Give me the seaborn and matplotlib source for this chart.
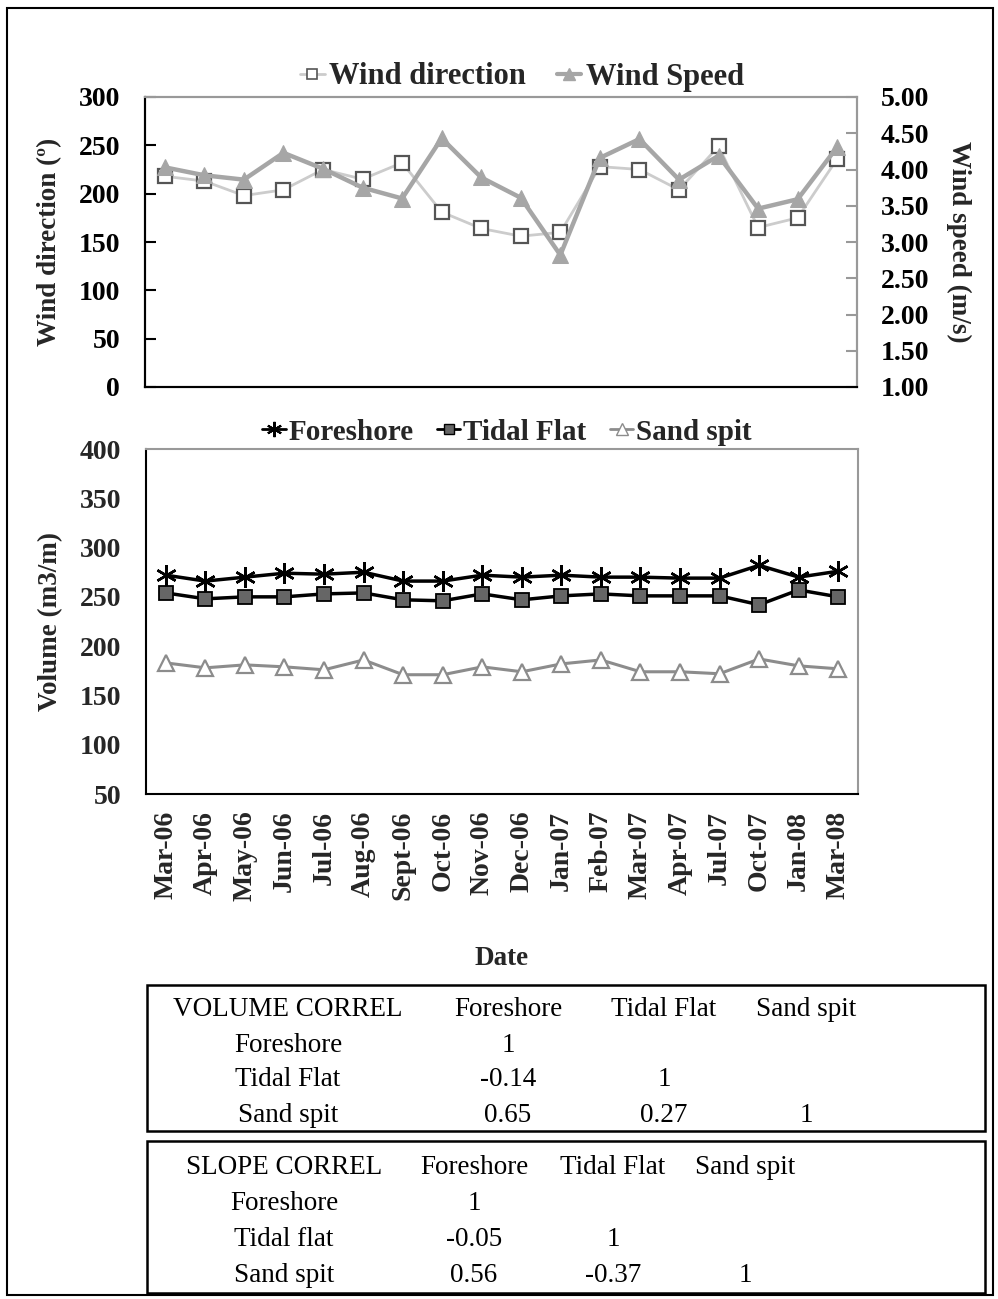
import numpy as np
import pandas as pd
import matplotlib
matplotlib.use("Agg")
import matplotlib.pyplot as plt
import seaborn as sns
from matplotlib.patches import Rectangle
from matplotlib.lines import Line2D

# ---------------- data ----------------
dates = ["Mar-06", "Apr-06", "May-06", "Jun-06", "Jul-06", "Aug-06", "Sept-06",
         "Oct-06", "Nov-06", "Dec-06", "Jan-07", "Feb-07", "Mar-07", "Apr-07",
         "Jul-07", "Oct-07", "Jan-08", "Mar-08"]
wind_direction = [218, 213, 198, 204, 225, 215, 232, 181, 164, 156, 160, 228,
                  225, 204, 249, 165, 175, 236]
wind_speed = [4.03, 3.92, 3.86, 4.23, 4.01, 3.75, 3.60, 4.43, 3.89, 3.61, 2.82,
              4.16, 4.42, 3.86, 4.19, 3.46, 3.59, 4.31]
foreshore = [272, 266, 270, 274, 273, 275, 266, 266, 272, 270, 272, 270, 270,
             269, 269, 282, 270, 276]
tidal_flat = [254, 248, 250, 250, 253, 254, 247, 246, 253, 247, 251, 253, 251,
              251, 251, 242, 257, 250]
sand_spit = [183, 178, 181, 179, 176, 186, 171, 171, 179, 174, 182, 186, 174,
             174, 172, 187, 180, 177]

left_ticks_top = [0, 50, 100, 150, 200, 250, 300]
right_ticks_top = [1.00, 1.50, 2.00, 2.50, 3.00, 3.50, 4.00, 4.50, 5.00]
ticks_bottom = [50, 100, 150, 200, 250, 300, 350, 400]

vol_title = "VOLUME CORREL"
vol_cols = ["Foreshore", "Tidal Flat", "Sand spit"]
vol_rows = ["Foreshore", "Tidal Flat", "Sand spit"]
vol_vals = [["1", "", ""], ["-0.14", "1", ""], ["0.65", "0.27", "1"]]

slope_title = "SLOPE CORREL"
slope_cols = ["Foreshore", "Tidal Flat", "Sand spit"]
slope_rows = ["Foreshore", "Tidal flat", "Sand spit"]
slope_vals = [["1", "", ""], ["-0.05", "1", ""], ["0.56", "-0.37", "1"]]

# ---------------- style ----------------
sns.set_theme(style="white")
plt.rcParams["font.family"] = ["Liberation Serif", "DejaVu Serif"]
plt.rcParams["axes.linewidth"] = 1.5

W, H = 998, 1299
fig = plt.figure(figsize=(W / 100, H / 100), dpi=100)


def fx(px):
    return px / W


def fy(py):
    return 1 - py / H


x = np.arange(len(dates))
df = pd.DataFrame({"x": x, "dir": wind_direction, "spd": wind_speed,
                   "fore": foreshore, "tidal": tidal_flat, "sand": sand_spit})

TICK_FS = 20
LAB_FS = 19.5

# ---------------- top panel ----------------
ax1 = fig.add_axes([fx(145), fy(387), fx(857) - fx(145), fy(97) - fy(387)])
ax2 = ax1.twinx()

sns.lineplot(data=df, x="x", y="dir", ax=ax1, color="#cccccc", linewidth=2,
             marker="s", markersize=10, markerfacecolor="white",
             markeredgecolor="#555555", markeredgewidth=1.6, zorder=3)
sns.lineplot(data=df, x="x", y="spd", ax=ax2, color="#a6a6a6", linewidth=3.2,
             marker="^", markersize=12, markerfacecolor="#a6a6a6",
             markeredgecolor="#a6a6a6", zorder=4)

ax1.set_xlim(-0.5, len(dates) - 0.5)
ax1.set_ylim(0, 300)
ax2.set_ylim(1, 5)
ax1.set_yticks(left_ticks_top)
ax1.set_yticklabels([str(t) for t in left_ticks_top], fontsize=TICK_FS, fontweight="bold")
ax2.set_yticks(right_ticks_top)
ax2.set_yticklabels([f"{t:.2f}" for t in right_ticks_top], fontsize=TICK_FS, fontweight="bold")
ax1.set_xticks([])
ax1.set_xlabel("")
ax1.set_ylabel("Wind direction (º)", fontsize=LAB_FS, fontweight="bold", labelpad=12)
ax2.set_ylabel("Wind speed (m/s)", fontsize=LAB_FS, fontweight="bold", rotation=-90,
               labelpad=30)
ax1.tick_params(axis="y", direction="in", length=8, width=1.5, pad=18, colors="black")
ax2.tick_params(axis="y", direction="in", length=8, width=1.5, pad=17,
                color="#999999", labelcolor="black")
for ax in (ax1, ax2):
    ax.spines["left"].set_color("black")
    ax.spines["bottom"].set_color("black")
    ax.spines["top"].set_color("#999999")
    ax.spines["right"].set_color("#999999")
    for s in ax.spines.values():
        s.set_linewidth(1.5)
ax1.patch.set_visible(False)

h_top = [Line2D([], [], color="#cccccc", lw=2, marker="s", ms=7, mfc="white",
                mec="#555555", mew=1.2),
         Line2D([], [], color="#a6a6a6", lw=3, marker="^", ms=8, mfc="#a6a6a6",
                mec="#a6a6a6")]
fig.legend(h_top, ["Wind direction", "Wind Speed"], loc="center",
           bbox_to_anchor=(fx(522), fy(77)), ncol=2, frameon=False,
           prop={"size": 22, "weight": "bold"}, handlelength=0.8,
           handletextpad=0.15, columnspacing=1.0)

# ---------------- bottom panel ----------------
ax3 = fig.add_axes([fx(146), fy(794), fx(858) - fx(146), fy(449) - fy(794)])
sns.lineplot(data=df, x="x", y="fore", ax=ax3, color="black", linewidth=2.5,
             marker=(6, 2, 0), markersize=15, markeredgecolor="black",
             markeredgewidth=1.8, zorder=4)
sns.lineplot(data=df, x="x", y="tidal", ax=ax3, color="black", linewidth=2.5,
             marker="s", markersize=10, markerfacecolor="#666666",
             markeredgecolor="black", markeredgewidth=1.3, zorder=4)
sns.lineplot(data=df, x="x", y="sand", ax=ax3, color="#8c8c8c", linewidth=2.2,
             marker="^", markersize=11, markerfacecolor="white",
             markeredgecolor="#8c8c8c", markeredgewidth=1.6, zorder=4)
ax3.set_xlim(-0.5, len(dates) - 0.5)
ax3.set_ylim(50, 400)
ax3.set_yticks(ticks_bottom)
ax3.set_yticklabels([str(t) for t in ticks_bottom], fontsize=TICK_FS, fontweight="bold")
ax3.set_xticks(x)
ax3.set_xticklabels(dates, rotation=90, fontsize=TICK_FS, fontweight="bold")
ax3.set_xticks(np.arange(len(dates) + 1) - 0.5, minor=True)
ax3.tick_params(axis="x", which="major", length=0, pad=12)
ax3.tick_params(axis="x", which="minor", direction="in", length=8, width=1.5)
ax3.tick_params(axis="y", direction="in", length=8, width=1.5, pad=18)
ax3.set_ylabel("Volume (m3/m)", fontsize=LAB_FS, fontweight="bold", labelpad=12)
ax3.set_xlabel("Date", fontsize=LAB_FS, fontweight="bold", labelpad=32)
ax3.spines["left"].set_color("black")
ax3.spines["bottom"].set_color("black")
ax3.spines["top"].set_color("#999999")
ax3.spines["right"].set_color("#999999")
for s in ax3.spines.values():
    s.set_linewidth(1.5)

h_bot = [Line2D([], [], color="black", lw=2, marker=(6, 2, 0), ms=11, mec="black", mew=1.5),
         Line2D([], [], color="black", lw=2, marker="s", ms=7, mfc="#666666", mec="black"),
         Line2D([], [], color="#8c8c8c", lw=2, marker="^", ms=8, mfc="white", mec="#8c8c8c")]
fig.legend(h_bot, ["Foreshore", "Tidal Flat", "Sand spit"], loc="center",
           bbox_to_anchor=(fx(507), fy(432)), ncol=3, frameon=False,
           prop={"size": 21, "weight": "bold"}, handlelength=0.8,
           handletextpad=0.1, columnspacing=0.8)

# ---------------- tables ----------------
def draw_table(top, bottom, title, cols, rows, vals, title_x, col_x, row_ys):
    fig.add_artist(Rectangle((fx(147), fy(bottom)), fx(985) - fx(147),
                             fy(top) - fy(bottom), transform=fig.transFigure,
                             fill=False, edgecolor="black", linewidth=1.8))
    kw = dict(fontsize=19.5, ha="center", va="center", color="black")
    fig.text(fx(title_x), fy(row_ys[0]), title, **kw)
    for cx, c in zip(col_x, cols):
        fig.text(fx(cx), fy(row_ys[0]), c, **kw)
    for ry, r, vrow in zip(row_ys[1:], rows, vals):
        fig.text(fx(title_x), fy(ry), r, **kw)
        for cx, v in zip(col_x, vrow):
            if v:
                fig.text(fx(cx), fy(ry), v, **kw)


draw_table(985, 1131, vol_title, vol_cols, vol_rows, vol_vals,
           288, [508, 664, 806], [1009, 1045, 1080, 1115])
draw_table(1141, 1293, slope_title, slope_cols, slope_rows, slope_vals,
           284, [474, 613, 745], [1168, 1204, 1240, 1275])

# outer border
fig.add_artist(Rectangle((fx(7), fy(1295)), fx(993) - fx(7), fy(8) - fy(1295),
                         transform=fig.transFigure, fill=False,
                         edgecolor="black", linewidth=1.5))

fig.savefig("out.png", dpi=100)
